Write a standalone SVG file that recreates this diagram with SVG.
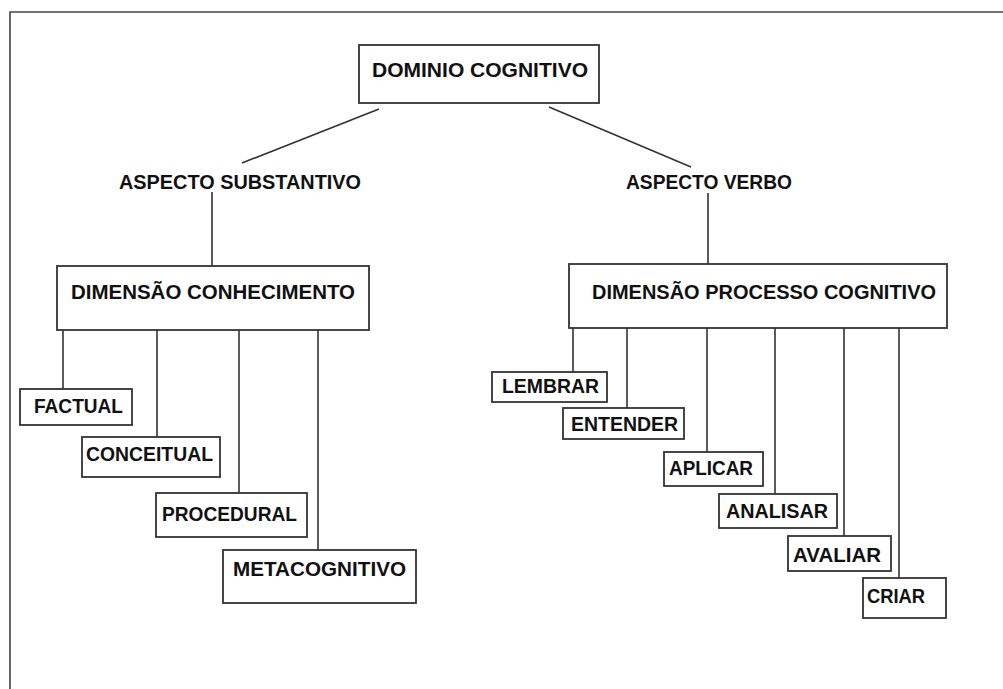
<svg xmlns="http://www.w3.org/2000/svg" width="1003" height="689" viewBox="0 0 1003 689">
<style>
.box{fill:#fff;stroke:#333;stroke-width:1.8}
.t{font-family:"Liberation Sans",Arial,sans-serif;font-weight:bold;font-size:19.5px;fill:#111}
.c line{stroke:#333;stroke-width:1.6}
.frame{fill:none;stroke:#444;stroke-width:1.6}
</style>
<rect width="1003" height="689" fill="#fff"/>
<polyline class="frame" points="10,689 10,12 1003,12"/>
<g class="c" id="connectors">
<line x1="379" y1="109" x2="242" y2="163"/>
<line x1="549" y1="107" x2="691" y2="167"/>
<line x1="212" y1="192" x2="212" y2="266"/>
<line x1="708" y1="193" x2="708" y2="264"/>
<line x1="63" y1="330" x2="63" y2="389"/>
<line x1="157" y1="330" x2="157" y2="437"/>
<line x1="239" y1="330" x2="239" y2="493"/>
<line x1="318" y1="330" x2="318" y2="550"/>
<line x1="573" y1="328" x2="573" y2="372"/>
<line x1="627" y1="328" x2="627" y2="408"/>
<line x1="707" y1="328" x2="707" y2="452"/>
<line x1="775" y1="328" x2="775" y2="494"/>
<line x1="844" y1="328" x2="844" y2="536"/>
<line x1="899" y1="328" x2="899" y2="578"/>
</g>
<g id="dominio"><rect class="box" x="359" y="45" width="240" height="58"/><text class="t" x="372" y="77" textLength="216" lengthAdjust="spacingAndGlyphs">DOMINIO COGNITIVO</text></g>
<g id="aspecto-substantivo"><text class="t" x="119" y="189" textLength="242" lengthAdjust="spacingAndGlyphs">ASPECTO SUBSTANTIVO</text></g>
<g id="aspecto-verbo"><text class="t" x="626" y="189" textLength="166" lengthAdjust="spacingAndGlyphs">ASPECTO VERBO</text></g>
<g id="dim-conhecimento"><rect class="box" x="57" y="266" width="312" height="64"/><text class="t" x="71" y="299" textLength="284" lengthAdjust="spacingAndGlyphs">DIMENSÃO CONHECIMENTO</text></g>
<g id="dim-processo"><rect class="box" x="569" y="264" width="378" height="64"/><text class="t" x="592" y="299" textLength="344" lengthAdjust="spacingAndGlyphs">DIMENSÃO PROCESSO COGNITIVO</text></g>
<g id="factual"><rect class="box" x="20" y="389" width="112" height="36"/><text class="t" x="34" y="413" textLength="89" lengthAdjust="spacingAndGlyphs">FACTUAL</text></g>
<g id="conceitual"><rect class="box" x="82" y="437" width="138" height="40"/><text class="t" x="86" y="461" textLength="127" lengthAdjust="spacingAndGlyphs">CONCEITUAL</text></g>
<g id="procedural"><rect class="box" x="156" y="493" width="151" height="44"/><text class="t" x="162" y="521" textLength="135" lengthAdjust="spacingAndGlyphs">PROCEDURAL</text></g>
<g id="metacognitivo"><rect class="box" x="223" y="550" width="193" height="53"/><text class="t" x="233" y="576" textLength="173" lengthAdjust="spacingAndGlyphs">METACOGNITIVO</text></g>
<g id="lembrar"><rect class="box" x="492" y="372" width="115" height="30"/><text class="t" x="502" y="393" textLength="97" lengthAdjust="spacingAndGlyphs">LEMBRAR</text></g>
<g id="entender"><rect class="box" x="563" y="408" width="121" height="31"/><text class="t" x="571" y="431" textLength="107" lengthAdjust="spacingAndGlyphs">ENTENDER</text></g>
<g id="aplicar"><rect class="box" x="664" y="452" width="99" height="34"/><text class="t" x="669" y="475" textLength="84" lengthAdjust="spacingAndGlyphs">APLICAR</text></g>
<g id="analisar"><rect class="box" x="719" y="494" width="118" height="34"/><text class="t" x="726" y="518" textLength="102" lengthAdjust="spacingAndGlyphs">ANALISAR</text></g>
<g id="avaliar"><rect class="box" x="788" y="536" width="103" height="35"/><text class="t" x="793" y="562" textLength="88" lengthAdjust="spacingAndGlyphs">AVALIAR</text></g>
<g id="criar"><rect class="box" x="863" y="578" width="83" height="40"/><text class="t" x="867" y="603" textLength="58" lengthAdjust="spacingAndGlyphs">CRIAR</text></g>
</svg>
